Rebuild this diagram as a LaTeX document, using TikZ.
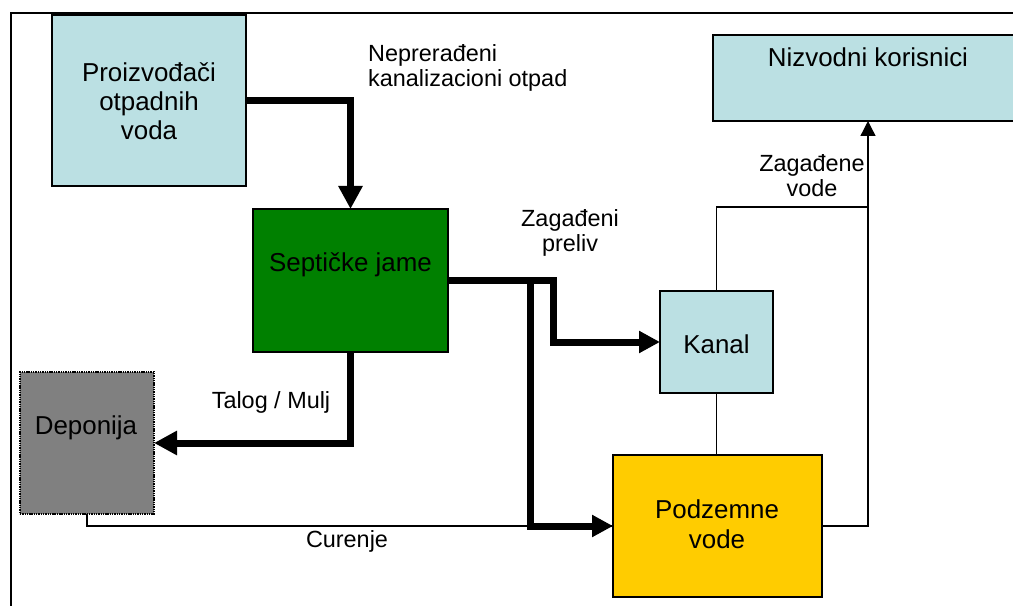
\documentclass[tikz,border=0pt]{standalone}
\usepackage{fontspec}
\setmainfont{Liberation Sans}
\usetikzlibrary{arrows.meta}
\definecolor{lightbox}{HTML}{BBE0E3}
\definecolor{septgreen}{HTML}{008000}
\definecolor{depgray}{HTML}{808080}
\definecolor{podzyellow}{HTML}{FFCC00}
\begin{document}
\begin{tikzpicture}[x=1bp,y=-1bp,
  box/.style={draw=black, line width=1.4bp, inner sep=0pt, outer sep=0pt},
  boxtext/.style={inner sep=0pt, align=center, font=\fontsize{26}{29.5}\selectfont},
  lab/.style={inner sep=0pt, font=\fontsize{23.5}{26}\selectfont},
  thickarrow/.style={line width=7bp, -{Triangle[length=23bp,width=23bp]}},
  medarrow/.style={line width=7bp, -{Triangle[length=21bp,width=21bp]}},
  thinline/.style={line width=1.3bp},
  thinarrow/.style={line width=1.3bp, -{Triangle[length=15bp,width=15bp]}}]
\useasboundingbox (0,0) rectangle (1013,606);
\fill[white] (0,0) rectangle (1013,606);
% frame
\draw[line width=2bp] (11,630) -- (11,13) -- (1040,13);
% boxes
\node[box, fill=lightbox, minimum width=194bp, minimum height=171bp] (prod) at (149,100.5) {};
\node[box, fill=lightbox, minimum width=310bp, minimum height=86bp] (nizv) at (868,78) {};
\node[box, fill=septgreen, minimum width=195bp, minimum height=143bp] (sept) at (350.5,280.5) {};
\node[box, fill=lightbox, minimum width=113bp, minimum height=102bp] (kanal) at (716.5,342) {};
\node[box, fill=depgray, dash pattern=on 1.4bp off 0.9bp, minimum width=134bp, minimum height=142bp] (dep) at (87,443) {};
\node[box, fill=podzyellow, minimum width=209bp, minimum height=142bp] (podz) at (717.5,526) {};
% box texts
\node[boxtext, anchor=base] (prodT) at (149,140) {Proizvođači\\otpadnih\\voda};
\node[boxtext, anchor=base] (nizvT) at (868,67) {Nizvodni korisnici};
\node[boxtext, anchor=base] (septT) at (350.5,272) {Septičke jame};
\node[boxtext, anchor=base] (kanalT) at (716.5,353) {Kanal};
\node[boxtext, anchor=base] (depT) at (86,434) {Deponija};
\node[boxtext, anchor=base] (podzT) at (717,548) {Podzemne\\vode};
% helper coordinates
\coordinate (c1) at (553,0);
\coordinate (c2) at (530,0);
\coordinate (j) at (868,207);
% thick arrows
\draw[thickarrow] (prod.east) -| (sept.north);
\draw[thickarrow] (sept.south) |- (dep.east);
\draw[medarrow] (sept.east) -| (c2 |- podz.west) -- (podz.west);
\draw[medarrow] (sept.east) -| (c1 |- kanal.west) -- (kanal.west);
% thin lines
\draw[thinline] (kanal.north) |- (j);
\draw[thinline] (kanal.south) -- (kanal.south |- podz.north);
\draw[thinarrow] (podz.east) -| (nizv.south);
\draw[thinline] (dep.south) |- (podz.west);
% labels
\node[lab, align=left, anchor=base west] (l1) at (368,87) {Neprerađeni\\kanalizacioni otpad};
\node[lab, align=center, anchor=base] (l2) at (570,252) {Zagađeni\\preliv};
\node[lab, anchor=base] (l3) at (271,408) {Talog / Mulj};
\node[lab, align=center, anchor=base] (l4) at (812,197) {Zagađene\\vode};
\node[lab, anchor=base] (l5) at (347,547) {Curenje};
\end{tikzpicture}
\end{document}
